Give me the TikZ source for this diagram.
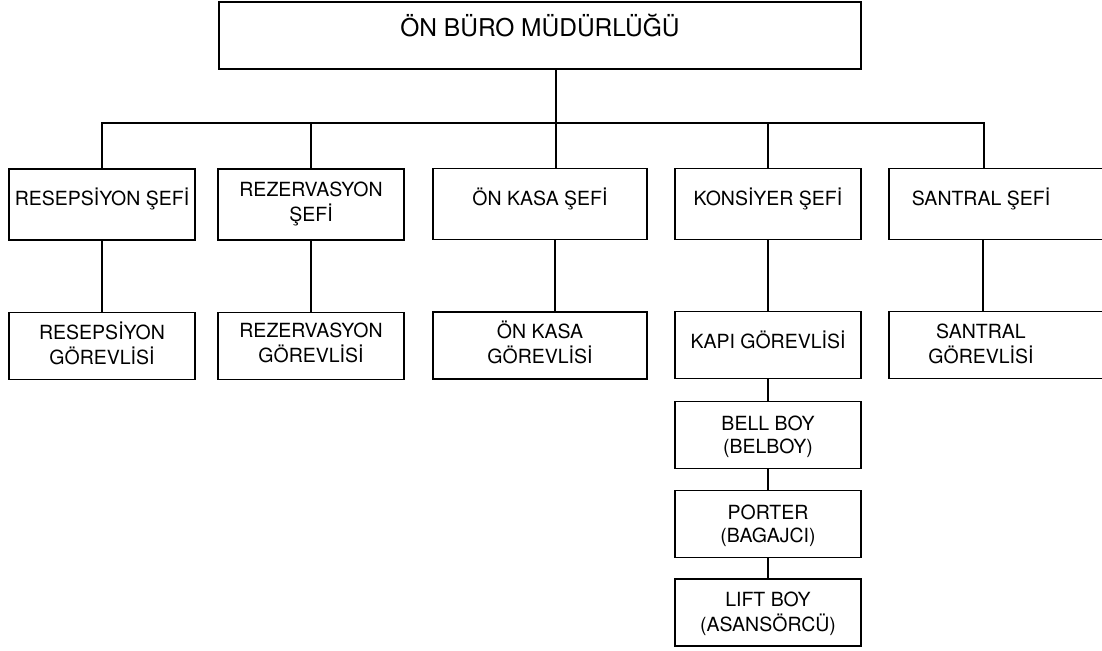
\documentclass[tikz,border=0pt]{standalone}
\usepackage{fontspec}
\setmainfont{TeX Gyre Heros}
\usetikzlibrary{calc}

% text block inside a box: #1 = raise of the last baseline relative to the box centre
\newcommand\boxlbl[2]{\raisebox{#1}[0pt][0pt]{\begin{tabular}[b]{@{}c@{}}#2\end{tabular}}}

\begin{document}
\begin{tikzpicture}[x=1pt,y=-1pt,
  unit/.style={draw=black, line width=1.6pt, rectangle, inner sep=0pt,
    font=\fontsize{19.5}{23}\selectfont},
  chief/.style={unit, minimum height=71pt},
  staff/.style={unit, minimum height=67pt},
  narrow/.style={minimum width=186pt},
  wide/.style={minimum width=214pt},
  link/.style={draw=black, line width=1.6pt}]
\useasboundingbox (0,0) rectangle (1102,650);
\clip (0,0) rectangle (1102,650);

% head of the department
\node[unit, minimum width=642pt, minimum height=67pt,
  font=\fontsize{24.5}{28}\selectfont] (top) at (540,35.5)
  {\boxlbl{-1pt}{ÖN BÜRO MÜDÜRLÜĞÜ}};

% chiefs
\node[chief, narrow] (b1) at (102,204.5) {\boxlbl{-0.5pt}{RESEPSİYON ŞEFİ}};
\node[chief, narrow] (b2) at (311,204.5) {\boxlbl{-16.5pt}{REZERVASYON\hspace{12pt}\\ŞEFİ}};
\node[chief, wide]   (b3) at (540,204)   {\boxlbl{-1pt}{ÖN KASA ŞEFİ}};
\node[chief, narrow] (b4) at (768,204)   {\boxlbl{-1pt}{KONSİYER ŞEFİ}};
\node[chief, wide]   (b5) at (996,204)   {\hspace*{-30pt}\boxlbl{-1pt}{SANTRAL ŞEFİ}};

% staff
\node[staff, narrow] (c1) at (102,346)   {\boxlbl{-18pt}{RESEPSİYON\\GÖREVLİSİ}};
\node[staff, narrow] (c2) at (311,346)   {\boxlbl{-16pt}{REZERVASYON\\GÖREVLİSİ}};
\node[staff, wide]   (c3) at (540,345.5) {\boxlbl{-17.5pt}{ÖN KASA\\GÖREVLİSİ}};
\node[staff, narrow] (c4) at (768,345)   {\boxlbl{-3pt}{KAPI GÖREVLİSİ}};
\node[staff, wide]   (c5) at (996,345)   {\hspace*{-30pt}\boxlbl{-18pt}{SANTRAL\\GÖREVLİSİ}};

% door staff chain
\node[staff, narrow] (d1) at (768,435)   {\boxlbl{-18pt}{BELL BOY\\(BELBOY)}};
\node[staff, narrow] (d2) at (768,524)   {\boxlbl{-18pt}{PORTER\\(BAGAJCI)}};
\node[staff, narrow] (d3) at (768,612.5) {\boxlbl{-18.5pt}{LIFT BOY\\(ASANSÖRCÜ)}};

% bus from the head to the chiefs
\coordinate (bus) at (0,123);
\coordinate (b5top) at ([xshift=-12pt]b5.north);
\draw[link] ([xshift=16pt]top.south) -- ([xshift=16pt]b3.north);
\draw[link] (b1.north) |- (bus -| b5top) -- (b5top);
\draw[link] (b2.north) -- (b2.north |- bus);
\draw[link] (b4.north) -- (b4.north |- bus);

% chiefs to their staff
\draw[link] (b1.south) -- (c1.north);
\draw[link] (b2.south) -- (c2.north);
\draw[link] ([xshift=15pt]b3.south) -- ([xshift=15pt]c3.north);
\draw[link] (b4.south) -- (c4.north);
\draw[link] ([xshift=-13pt]b5.south) -- ([xshift=-13pt]c5.north);
\draw[link] (c4.south) -- (d1.north);
\draw[link] (d1.south) -- (d2.north);
\draw[link] (d2.south) -- (d3.north);
\end{tikzpicture}
\end{document}
